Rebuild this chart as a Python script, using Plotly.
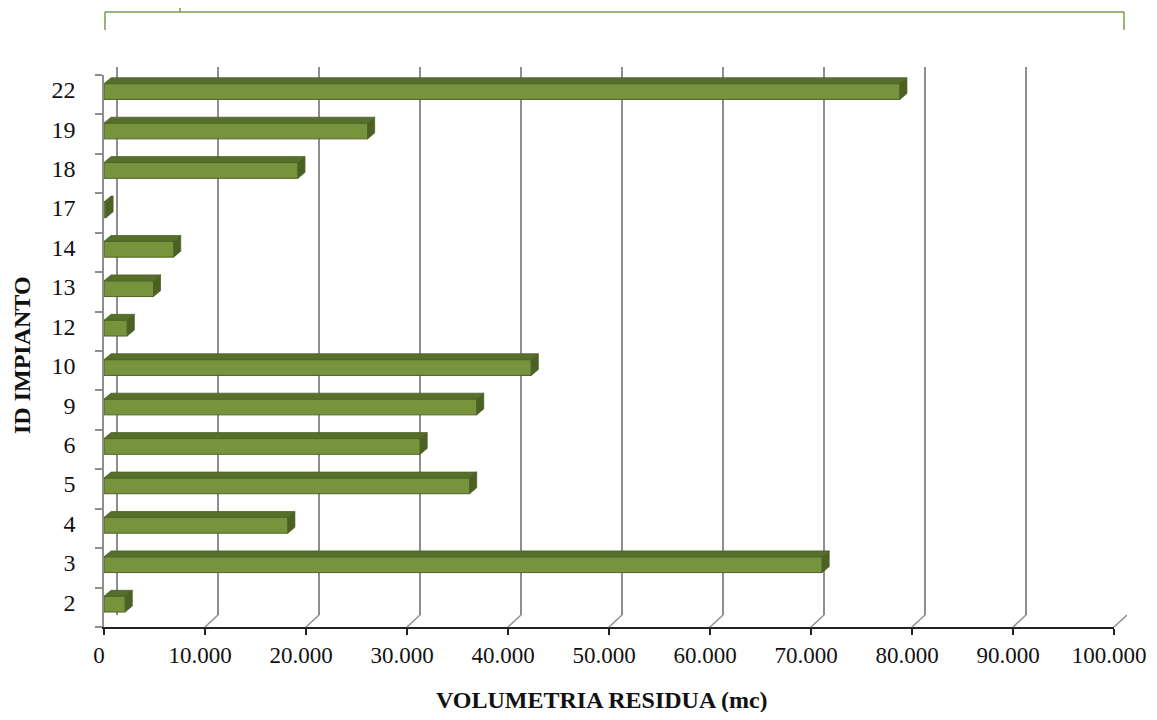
import plotly.graph_objects as go

# ---- data (bottom to top) ----
categories = ["2", "3", "4", "5", "6", "9", "10", "12", "13", "14", "17", "18", "19", "22"]
values = [2100, 71100, 18200, 36200, 31300, 36900, 42300, 2300, 4900, 6900, 200, 19200, 26100, 78800]
x_tickvals = [0, 10000, 20000, 30000, 40000, 50000, 60000, 70000, 80000, 90000, 100000]
x_ticktext = ["0", "10.000", "20.000", "30.000", "40.000", "50.000", "60.000", "70.000", "80.000", "90.000", "100.000"]
x_title = "VOLUMETRIA RESIDUA (mc)"
y_title = "ID IMPIANTO"

# ---- style ----
OFF = 8                               # page body margin
W, H = 1157 - OFF, 720 - 2 * OFF
ML, MT = 104 - OFF, 50
PLOT_RIGHT = 1127 - OFF               # figure px of back wall right edge
PLOT_BOTTOM = 627 - OFF               # figure px of front x axis
MR = W - PLOT_RIGHT
MB = H - PLOT_BOTTOM
PW = W - ML - MR
PH = H - MT - MB
SHIFT_X, SHIFT_Y = 13, 12           # 3D depth of the back wall (px)
BAR_W = 0.40
BAR_SHIFT = 0.08
DX = 700                             # depth of bar side (data units)
DY = 0.15                            # depth of bar top (category units)
FRONT = "#77933c"
EDGE = "#4f6228"
TOP = "#566f2b"
SIDE = "#4b6124"
GRID = "#8e8e8e"
FONT = "Liberation Serif"


def px(xs):
    """screen x -> paper x"""
    return (xs - OFF - ML) / PW


def py(ys):
    """screen y -> paper y"""
    return (MT + PH - (ys - OFF)) / PH


pos = list(range(len(categories)))

fig = go.Figure()

# front faces
fig.add_trace(go.Bar(
    x=values, y=pos, orientation="h", width=BAR_W, offset=-BAR_W / 2 + BAR_SHIFT,
    marker=dict(color=FRONT, line=dict(color=EDGE, width=1)),
    xaxis="x2", yaxis="y2", showlegend=False, hoverinfo="x+y"))

# top faces and side faces derived from the values
tx, ty, sx, sy = [], [], [], []
for p, v in zip(pos, values):
    y0 = p - BAR_W / 2 + BAR_SHIFT
    y1 = y0 + BAR_W
    tx += [0, v, v + DX, DX, 0, None]
    ty += [y1, y1, y1 + DY, y1 + DY, y1, None]
    sx += [v, v + DX, v + DX, v, v, None]
    sy += [y0, y0 + DY, y1 + DY, y1, y0, None]

fig.add_trace(go.Scatter(x=tx, y=ty, fill="toself", fillcolor=TOP, mode="lines",
                         line=dict(color=EDGE, width=0.8), xaxis="x2", yaxis="y2",
                         showlegend=False, hoverinfo="skip"))
fig.add_trace(go.Scatter(x=sx, y=sy, fill="toself", fillcolor=SIDE, mode="lines",
                         line=dict(color=EDGE, width=0.8), xaxis="x2", yaxis="y2",
                         showlegend=False, hoverinfo="skip"))

y_front_top = py(75)
y_back_bot = SHIFT_Y / PH
y_back_top = min(1.0, py(67))

boundaries = [p - 0.5 for p in pos] + [pos[-1] + 0.5]

shapes = []
# slanted connectors from front ticks to back gridlines
for v in x_tickvals:
    shapes.append(dict(type="line", xref="x", yref="paper", xsizemode="pixel", ysizemode="pixel",
                       xanchor=v, yanchor=0, x0=-SHIFT_X, x1=0, y0=0, y1=SHIFT_Y,
                       line=dict(color=GRID, width=1.5)))
# top-left slant of the side wall
shapes.append(dict(type="line", xref="x", yref="paper", xsizemode="pixel", ysizemode="pixel",
                   xanchor=0, yanchor=y_front_top, x0=-SHIFT_X, x1=0, y0=0, y1=8,
                   line=dict(color=GRID, width=1.5)))

# top bracket (decoration)
BR = "#7b9852"
shapes += [
    dict(type="line", xref="paper", yref="paper", x0=px(105), x1=px(1124), y0=py(12), y1=py(12), line=dict(color=BR, width=1.5)),
    dict(type="line", xref="paper", yref="paper", x0=px(105), x1=px(105), y0=py(12), y1=py(30), line=dict(color=BR, width=1.5)),
    dict(type="line", xref="paper", yref="paper", x0=px(1124), x1=px(1124), y0=py(12), y1=py(30), line=dict(color=BR, width=1.5)),
    dict(type="line", xref="paper", yref="paper", x0=px(180), x1=px(180), y0=py(8), y1=py(12), line=dict(color=BR, width=1.5)),
]

fig.update_layout(
    width=W, height=H,
    margin=dict(l=ML, r=MR, t=MT, b=MB, autoexpand=False),
    paper_bgcolor="white", plot_bgcolor="rgba(0,0,0,0)",
    font=dict(family=FONT, color="#111111"),
    bargap=0.5,
    xaxis=dict(domain=[SHIFT_X / PW, 1.0], range=[0, 100000], anchor="y",
               tickvals=x_tickvals, showticklabels=False, ticks="",
               showgrid=True, gridcolor=GRID, gridwidth=1.5,
               zeroline=True, zerolinecolor=GRID, zerolinewidth=1.5,
               showline=False, fixedrange=True, automargin=False),
    yaxis=dict(domain=[y_back_bot, y_back_top], range=[0, 1], anchor="x",
               showgrid=False, showticklabels=False, zeroline=False, showline=False,
               fixedrange=True, automargin=False),
    xaxis2=dict(domain=[0, (PW - SHIFT_X) / PW], range=[0, 100000], anchor="y2",
                tickvals=x_tickvals, ticktext=x_ticktext,
                tickfont=dict(family=FONT, size=23, color="#111111"),
                ticklabeloverflow="allow", ticklabelshift=-5,
                showgrid=False, zeroline=False,
                showline=True, linecolor="#222222", linewidth=2,
                ticks="outside", ticklen=6, tickwidth=2, tickcolor="#222222",
                fixedrange=True, automargin=False),
    yaxis2=dict(domain=[0, y_front_top], range=[-0.5, len(categories) - 0.5], anchor="x2",
                tickvals=pos, ticktext=categories,
                tickfont=dict(family=FONT, size=24, color="#111111"),
                ticks="", ticklabelstandoff=22, ticklabelshift=-5,
                minor=dict(tickvals=boundaries, ticks="outside", ticklen=7, tickcolor=GRID, tickwidth=1.5),
                showgrid=False, zeroline=False,
                showline=True, linecolor=GRID, linewidth=1.5, fixedrange=True, automargin=False),
    shapes=shapes,
    annotations=[
        dict(text="<b>" + x_title + "</b>", xref="paper", yref="paper",
             x=px(602), y=py(700), xanchor="center", yanchor="middle", showarrow=False,
             font=dict(family=FONT, size=24, color="#111111")),
        dict(text="<b>" + y_title + "</b>", xref="paper", yref="paper",
             x=px(22), y=py(355), xanchor="center", yanchor="middle", showarrow=False, textangle=-90,
             font=dict(family=FONT, size=24, color="#111111")),
    ],
)

fig.write_html("out.html")
